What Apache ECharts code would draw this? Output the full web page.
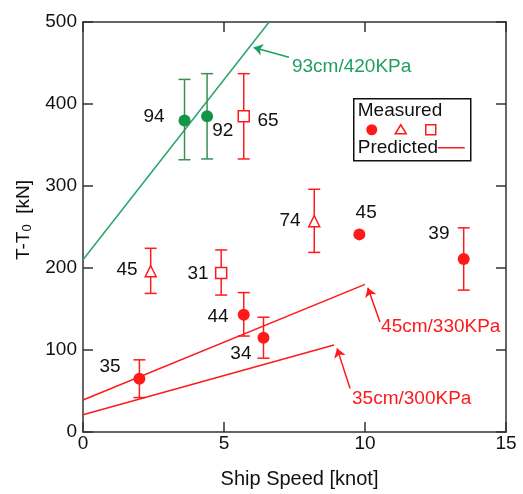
<!DOCTYPE html>
<html><head><meta charset="utf-8">
<script src="https://cdn.jsdelivr.net/npm/echarts@6/dist/echarts.min.js"></script>
<style>html,body{margin:0;padding:0;background:#fff}#c{width:523px;height:494px}</style>
</head><body><div id="c"></div>
<script>
// ---- data ----
const xTicks = [0, 5, 10, 15];
const yTicks = [0, 100, 200, 300, 400, 500];
const greenPts = [[3.6, 380], [4.4, 385]];
const greenErr = [[3.6, 332, 430], [4.4, 333, 437]];
const redCircles = [[2.0, 65], [5.7, 143], [6.4, 115], [9.8, 241], [13.5, 211]];
const redCircleErr = [[2.0, 42, 88], [5.7, 117, 170], [6.4, 90, 140], [13.5, 173, 249]];
const redTriangles = [[2.4, 196], [8.2, 257]];
const redTriErr = [[2.4, 169, 224], [8.2, 219, 296]];
const redSquares = [[4.9, 194], [5.7, 385]];
const redSqErr = [[4.9, 167, 222], [5.7, 333, 437]];
const line93 = [[0, 210], [6.6, 500]];
const line45 = [[0, 39], [10, 180]];
const line35 = [[0, 21], [8.9, 106]];
// point count labels: [x, y, text]
const countLabels = [
  [2.52, 384, '94'], [4.96, 367, '92'], [6.56, 379, '65'],
  [1.56, 198, '45'], [4.08, 193, '31'], [7.34, 257, '74'],
  [10.04, 267, '45'], [12.62, 242, '39'], [4.79, 140, '44'],
  [5.6, 96, '34'], [0.96, 79, '35']
];
// annotations: [textX, textY, text, arrowFromX, arrowFromY, arrowToX, arrowToY]
const annotations = [
  [7.41, 446, '93cm/420KPa', 7.30, 457, 6.05, 469],
  [10.57, 128, '45cm/330KPa', 10.53, 134, 10.1, 176],
  [9.54, 40, '35cm/300KPa', 9.47, 53, 9.01, 102]
];
const annColors = ['#1f9e63', '#ff1a1a', '#ff1a1a'];

const RED = '#ff1a1a', GREEN_PT = '#129548', GREEN_BAR = '#3b8f52', GREEN_LINE = '#2aa36c';
const FONT = 'Liberation Sans';
const TXT = '#111';

function errSeries(data, color) {
  return {
    type: 'custom', data: data, z: 2,
    renderItem: function (params, api) {
      const x = api.value(0);
      const lo = api.coord([x, api.value(1)]);
      const hi = api.coord([x, api.value(2)]);
      const w = 6;
      const st = { stroke: color, lineWidth: 1.5 };
      return { type: 'group', children: [
        { type: 'line', shape: { x1: lo[0], y1: lo[1], x2: hi[0], y2: hi[1] }, style: st },
        { type: 'line', shape: { x1: lo[0] - w, y1: lo[1], x2: lo[0] + w, y2: lo[1] }, style: st },
        { type: 'line', shape: { x1: hi[0] - w, y1: hi[1], x2: hi[0] + w, y2: hi[1] }, style: st }
      ]};
    }
  };
}
function lineSeries(data, color) {
  return { type: 'line', data: data, symbol: 'none', z: 1, lineStyle: { color: color, width: 1.5 }, silent: true };
}

const axisCommon = {
  min: 0, axisLine: { show: true, onZero: false, lineStyle: { color: '#333', width: 1.5 } },
  axisTick: { show: true, inside: true, length: 10, lineStyle: { color: '#333', width: 1.5 } },
  splitLine: { show: false }
};

const chart = echarts.init(document.getElementById('c'));
const option = {
  animation: false,
  grid: { left: 83, top: 22, width: 423, height: 412 },
  xAxis: [
    Object.assign({}, axisCommon, { type: 'value', max: 15, interval: 5, position: 'bottom',
      axisLabel: { fontSize: 19, fontFamily: FONT, color: TXT, margin: 2, formatter: v => xTicks.includes(v) ? String(v) : '' },
      name: 'Ship Speed [knot]', nameLocation: 'middle', nameGap: 37,
      nameTextStyle: { fontSize: 20, fontFamily: FONT, color: TXT, padding: [0, 0, 0, 10] } }),
    Object.assign({}, axisCommon, { type: 'value', max: 15, interval: 5, position: 'top', axisLabel: { show: false } })
  ],
  yAxis: [
    Object.assign({}, axisCommon, { type: 'value', max: 500, interval: 100, position: 'left',
      axisLabel: { fontSize: 19, fontFamily: FONT, color: TXT, margin: 6, formatter: v => yTicks.includes(v) ? String(v) : '' },
      name: '{a|T-T}{s|0}{a|  [kN]}', nameLocation: 'middle', nameGap: 49, nameRotate: 90,
      nameTextStyle: { fontSize: 19, fontFamily: FONT, color: TXT, padding: [0, 0, 0, 14],
        rich: { a: { fontSize: 19, fontFamily: FONT, color: TXT }, s: { fontSize: 13, fontFamily: FONT, color: TXT, padding: [8, 0, 0, 0] } } } }),
    Object.assign({}, axisCommon, { type: 'value', max: 500, interval: 100, position: 'right', axisLabel: { show: false } })
  ],
  series: [
    lineSeries(line93, GREEN_LINE),
    lineSeries(line45, RED),
    lineSeries(line35, RED),
    errSeries(greenErr, GREEN_BAR),
    errSeries(redCircleErr, RED),
    errSeries(redTriErr, RED),
    errSeries(redSqErr, RED),
    { type: 'scatter', data: greenPts, symbol: 'circle', symbolSize: 12, z: 5, itemStyle: { color: GREEN_PT, opacity: 1 } },
    { type: 'scatter', data: redCircles, symbol: 'circle', symbolSize: 12, z: 5, itemStyle: { color: RED, opacity: 1 } },
    { type: 'scatter', data: redTriangles, symbol: 'triangle', symbolSize: 11, z: 5, itemStyle: { color: '#fff', borderColor: RED, borderWidth: 1.5, opacity: 1 } },
    { type: 'scatter', data: redSquares, symbol: 'rect', symbolSize: 11, z: 5, itemStyle: { color: '#fff', borderColor: RED, borderWidth: 1.5, opacity: 1 } },
    { type: 'scatter', data: countLabels, symbolSize: 0, z: 6, silent: true, itemStyle: { opacity: 1 },
      label: { show: true, position: 'inside', formatter: p => p.data[2], fontSize: 19, fontFamily: FONT, color: TXT, opacity: 1 } },
    { type: 'scatter', data: annotations.map((a, i) => ({ value: [a[0], a[1], a[2]], label: { color: annColors[i] } })), symbolSize: 0, z: 6, silent: true,
      itemStyle: { opacity: 1 },
      label: { show: true, position: 'right', distance: 0, formatter: p => p.data.value[2], fontSize: 19, fontFamily: FONT, opacity: 1 } },
    { type: 'lines', coordinateSystem: 'cartesian2d', z: 6, silent: true, symbol: ['none', 'arrow'], symbolSize: 9,
      data: annotations.map((a, i) => ({ coords: [[a[3], a[4]], [a[5], a[6]]], lineStyle: { color: annColors[i], width: 1.5, opacity: 1 } })) }
  ],
  graphic: [
    { type: 'group', left: 353, top: 98, z: 10, children: [
      { type: 'rect', shape: { x: 0, y: 0, width: 117, height: 62 }, style: { fill: '#fff', stroke: '#111', lineWidth: 1.5 } },
      { type: 'text', x: 4, y: 12, style: { text: 'Measured', font: '19px "Liberation Sans"', fill: TXT, verticalAlign: 'middle' } },
      { type: 'circle', shape: { cx: 18, cy: 31, r: 5.5 }, style: { fill: RED } },
      { type: 'polygon', shape: { points: [[47, 26], [52.5, 35], [41.5, 35]] }, style: { fill: '#fff', stroke: RED, lineWidth: 1.5 } },
      { type: 'rect', shape: { x: 72, y: 26, width: 10, height: 10 }, style: { fill: '#fff', stroke: RED, lineWidth: 1.5 } },
      { type: 'text', x: 4, y: 49, style: { text: 'Predicted', font: '19px "Liberation Sans"', fill: TXT, verticalAlign: 'middle' } },
      { type: 'line', shape: { x1: 84, y1: 49, x2: 111, y2: 49 }, style: { stroke: RED, lineWidth: 1.5 } }
    ]}
  ]
};
chart.setOption(option);
</script>
</body></html>
